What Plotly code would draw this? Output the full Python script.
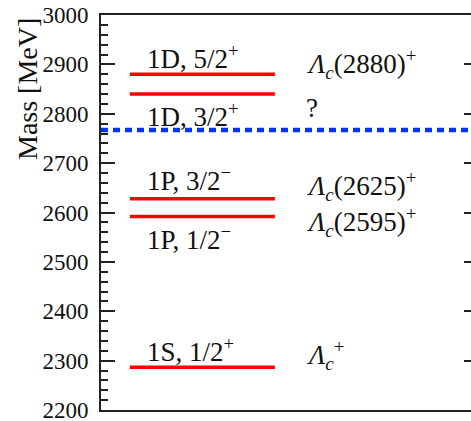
import plotly.graph_objects as go

# Data
level_masses = [2286.5, 2592.0, 2628.0, 2840.0, 2880.0]
level_labels = ["1S, 1/2<sup>+</sup>", "1P, 1/2<sup>−</sup>", "1P, 3/2<sup>−</sup>",
                "1D, 3/2<sup>+</sup>", "1D, 5/2<sup>+</sup>"]
label_y = [2322, 2548, 2668, 2798, 2915]
state_names = ["<i>Λ</i><sub><i>c</i></sub><sup>+</sup>",
               "<i>Λ</i><sub><i>c</i></sub>(2595)<sup>+</sup>",
               "<i>Λ</i><sub><i>c</i></sub>(2625)<sup>+</sup>",
               "?",
               "<i>Λ</i><sub><i>c</i></sub>(2880)<sup>+</sup>"]
state_y = [2312, 2581, 2654, 2812, 2901]
threshold = 2767.0
y_range = [2200, 3000]

FONT = "Liberation Serif"
fig = go.Figure()

for m in level_masses:
    fig.add_trace(go.Scatter(x=[0.078, 0.470], y=[m, m], mode="lines",
                             line=dict(color="#ff0000", width=3.5),
                             showlegend=False, hoverinfo="skip"))

fig.add_trace(go.Scatter(x=[0, 1], y=[threshold, threshold], mode="lines",
                         line=dict(color="rgb(0,50,255)", width=4.5, dash="7px,5px"),
                         showlegend=False, hoverinfo="skip"))

fig.add_trace(go.Scatter(x=[0.5], y=[2500], yaxis="y2", mode="markers",
                         marker=dict(opacity=0), showlegend=False, hoverinfo="skip"))

for t, y in zip(level_labels, label_y):
    fig.add_annotation(x=0.118, y=y, text=t, showarrow=False, xanchor="left",
                       yanchor="middle", font=dict(family=FONT, size=27, color="#111"))
for t, y in zip(state_names, state_y):
    fig.add_annotation(x=0.548, y=y, text=t, showarrow=False, xanchor="left",
                       yanchor="middle", font=dict(family=FONT, size=27, color="#111"))

fig.add_annotation(x=(27 - 101) / 370, y=1 - (89 - 15) / 395, xref="x domain",
                   yref="y domain", text="Mass [MeV]", textangle=-90,
                   showarrow=False, xanchor="center", yanchor="middle",
                   font=dict(family=FONT, size=28, color="#111"))

fig.update_layout(
    width=471, height=421,
    margin=dict(l=101, r=0, t=15, b=11),
    paper_bgcolor="white", plot_bgcolor="white",
    xaxis=dict(range=[0, 1], showgrid=False, zeroline=False, showticklabels=False,
               ticks="", showline=True, mirror=True, linecolor="#222", linewidth=2,
               fixedrange=True),
    yaxis=dict(range=y_range, showgrid=False, zeroline=False, ticks="inside",
               dtick=100, tick0=2200, ticklen=14, tickwidth=2, tickcolor="#222",
               showline=True, linecolor="#222", linewidth=2, automargin=False,
               ticklabelstandoff=6, ticklabeloverflow="allow",
               tickfont=dict(family=FONT, size=23, color="#111"),
               minor=dict(ticks="inside", dtick=20, ticklen=7, tickwidth=2,
                          tickcolor="#222", showgrid=False)),
    yaxis2=dict(range=y_range, overlaying="y", side="right", showgrid=False,
                zeroline=False, ticks="inside", dtick=100, tick0=2200, ticklen=7,
                tickwidth=2, tickcolor="#222", showticklabels=False, showline=False,
                automargin=False),
)

fig.write_html("out.html")
